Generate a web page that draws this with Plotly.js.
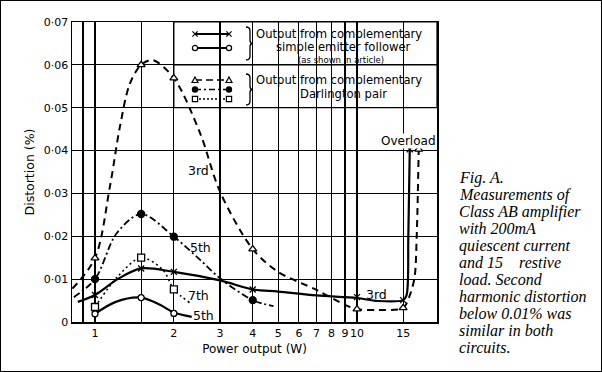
<!DOCTYPE html>
<html><head><meta charset="utf-8">
<script src="https://cdn.plot.ly/plotly-3.0.1.min.js"></script>
<style>
html,body{margin:0;padding:0;background:#fff;}
#frame{position:absolute;left:0;top:0;width:600px;height:370px;border:1px solid #000;background:#fff;}
#chart{width:600px;height:370px;}
</style></head><body>
<div id="frame"><div id="chart"></div></div>
<script>
// ---------- data ----------
const xTickVals = [0.9, 1, 1.5, 2, 3, 4, 5, 6, 7, 8, 9, 10, 15];
const xTickText = ['', '1', '', '2', '3', '4', '5', '6', '7', '8', '9', '10', '15'];
const yTickVals = [0, 0.01, 0.02, 0.03, 0.04, 0.05, 0.06, 0.07];
const yTickText = ['0', '0·01', '0·02', '0·03', '0·04', '0·05', '0·06', '0·07'];

// Simple emitter follower, 3rd harmonic (x markers, solid)
const ef3PointsX = [1, 1.5, 2, 4, 10, 15, 15.9];
const ef3PointsY = [0.0063, 0.0125, 0.0117, 0.0076, 0.0058, 0.0051, 0.0403];
const ef3CurveX = [0.86, 1, 1.22, 1.5, 2, 3, 4, 5, 7, 10, 12, 15, 15.45, 15.7, 15.9];
const ef3CurveY = [0.0047, 0.0063, 0.0100, 0.0125, 0.0117, 0.0097, 0.0076, 0.0071, 0.0062, 0.0056, 0.0049, 0.0051, 0.0062, 0.0200, 0.0403];

// Simple emitter follower, 5th harmonic (open circles, solid)
const ef5PointsX = [1, 1.5, 2];
const ef5PointsY = [0.0019, 0.0057, 0.0020];
const ef5CurveX = [1, 1.2, 1.5, 1.77, 2, 2.34];
const ef5CurveY = [0.0019, 0.0047, 0.0057, 0.0040, 0.0022, 0.0012];

// Darlington pair, 3rd harmonic (open triangles, dashed)
const dp3PointsX = [1, 1.5, 2, 4, 10, 15, 17.2];
const dp3PointsY = [0.0149, 0.0600, 0.0569, 0.0170, 0.0030, 0.0033, 0.0403];
const dp3CurveX = [0.82, 1, 1.14, 1.245, 1.36, 1.5, 1.66, 2, 2.52, 3, 4, 5, 7, 9, 10, 12, 15, 16, 16.6, 16.9, 17.2];
const dp3CurveY = [0.0078, 0.0149, 0.0316, 0.0456, 0.0557, 0.0600, 0.0611, 0.0569, 0.0440, 0.0304, 0.0170, 0.0117, 0.0075, 0.0040, 0.0030, 0.0028, 0.0033, 0.0067, 0.0106, 0.0200, 0.0403];

// Darlington pair, 5th harmonic (filled circles, dash-dot)
const dp5PointsX = [1, 1.5, 2, 4];
const dp5PointsY = [0.0100, 0.0252, 0.0199, 0.0051];
const dp5CurveX = [0.83, 1, 1.21, 1.5, 2, 2.52, 3, 4, 4.8];
const dp5CurveY = [0.0058, 0.0100, 0.0207, 0.0252, 0.0199, 0.0145, 0.0102, 0.0051, 0.0037];

// Darlington pair, 7th harmonic (open squares, dotted)
const dp7PointsX = [1, 1.5, 2];
const dp7PointsY = [0.0035, 0.0150, 0.0076];
const dp7CurveX = [1, 1.22, 1.5, 1.82, 2, 2.3];
const dp7CurveY = [0.0035, 0.0106, 0.0150, 0.0121, 0.0076, 0.0045];

const captionLines = ['Fig. A.', 'Measurements of', 'Class AB amplifier', 'with 200mA',
  'quiescent current', 'and 15\u00a0\u00a0\u00a0\u00a0restive', 'load. Second',
  'harmonic distortion', 'below 0.01% was', 'similar in both', 'circuits.'];

// ---------- geometry helpers (page pixels -> paper) ----------
const PL = 72, PR = 437, PT = 22, PB = 322;
const XR0 = (72 - 95) / 262, XR1 = (437 - 95) / 262;
const px = p => (p - PL) / (PR - PL);
const py = p => (PB - p) / (PB - PT);
const dx = v => (Math.log10(v) - XR0) / (XR1 - XR0);
const dy = v => v / 0.07;
const SANS = 'DejaVu Sans';

function curve(x, y, dash, w, name) {
  return {x: x, y: y, type: 'scatter', mode: 'lines', name: name, hoverinfo: 'skip',
    line: {color: '#000', width: w, dash: dash, shape: 'spline', smoothing: 0.9}};
}
function pts(x, y, sym, fill, size, name) {
  return {x: x, y: y, type: 'scatter', mode: 'markers', name: name,
    marker: {symbol: sym, size: size, color: fill, line: {color: '#000', width: 1.3}}};
}

const traces = [
  curve(ef3CurveX, ef3CurveY, 'solid', 2.2, 'EF 3rd'),
  curve(ef5CurveX, ef5CurveY, 'solid', 2.2, 'EF 5th'),
  curve(dp3CurveX, dp3CurveY, '7px,5px', 2, 'Darlington 3rd'),
  curve(dp5CurveX, dp5CurveY, '7px,3px,2px,3px', 1.8, 'Darlington 5th'),
  curve(dp7CurveX, dp7CurveY, '2px,3px', 1.6, 'Darlington 7th'),
  pts(ef3PointsX, ef3PointsY, 'x-thin-open', '#000', 6, 'EF 3rd'),
  pts(ef5PointsX, ef5PointsY, 'circle', '#fff', 6, 'EF 5th'),
  pts(dp3PointsX, dp3PointsY, 'triangle-up', '#fff', 7, 'Darlington 3rd'),
  pts(dp5PointsX, dp5PointsY, 'circle', '#000', 7, 'Darlington 5th'),
  pts(dp7PointsX, dp7PointsY, 'square', '#fff', 7, 'Darlington 7th')
];

// ---------- legend box & drawing ----------
const shapes = [];
shapes.push({type: 'rect', xref: 'paper', yref: 'paper', layer: 'between',
  x0: dx(2), x1: 1, y0: dy(0.05), y1: 1, fillcolor: '#fff', line: {color: '#000', width: 1.2}});
shapes.push({type: 'line', xref: 'paper', yref: 'paper', layer: 'between',
  x0: dx(2), x1: 1, y0: dy(0.06), y1: dy(0.06), line: {color: '#000', width: 1.2}});

const legendRows = [
  {y: 34, dash: 'solid', m: 'x'},
  {y: 48, dash: 'solid', m: 'o'},
  {y: 80, dash: '7px,4px', m: 't'},
  {y: 89.5, dash: '6px,3px,2px,3px', m: 'd'},
  {y: 99, dash: '2px,2px', m: 's'}
];
const LX0 = 195, LX1 = 229;
function P(x, y) { return px(x) + ',' + py(y); }
legendRows.forEach(r => {
  shapes.push({type: 'line', xref: 'paper', yref: 'paper', x0: px(LX0), x1: px(LX1), y0: py(r.y), y1: py(r.y),
    line: {color: '#000', width: r.dash === 'solid' ? 2 : 1.6, dash: r.dash}});
  [LX0, LX1].forEach(cx => {
    const s = 2.6;
    if (r.m === 'x') {
      shapes.push({type: 'path', xref: 'paper', yref: 'paper',
        path: 'M' + P(cx - s, r.y - s) + 'L' + P(cx + s, r.y + s) + 'M' + P(cx - s, r.y + s) + 'L' + P(cx + s, r.y - s),
        line: {color: '#000', width: 1.2}});
    } else if (r.m === 'o' || r.m === 'd') {
      shapes.push({type: 'circle', xref: 'paper', yref: 'paper', x0: px(cx - s), x1: px(cx + s), y0: py(r.y + s), y1: py(r.y - s),
        fillcolor: r.m === 'd' ? '#000' : '#fff', line: {color: '#000', width: 1.2}});
    } else if (r.m === 't') {
      shapes.push({type: 'path', xref: 'paper', yref: 'paper',
        path: 'M' + P(cx - 3, r.y + 2.5) + 'L' + P(cx + 3, r.y + 2.5) + 'L' + P(cx, r.y - 3) + 'Z',
        fillcolor: '#fff', line: {color: '#000', width: 1.2}});
    } else {
      shapes.push({type: 'rect', xref: 'paper', yref: 'paper', x0: px(cx - s), x1: px(cx + s), y0: py(r.y + s), y1: py(r.y - s),
        fillcolor: '#fff', line: {color: '#000', width: 1.2}});
    }
  });
});
function brace(y0, y1) {
  const m = (y0 + y1) / 2;
  return {type: 'path', xref: 'paper', yref: 'paper', line: {color: '#000', width: 1.3},
    path: 'M' + P(246, y0) + 'Q' + P(250, y0) + ' ' + P(250, y0 + 4) + 'L' + P(250, m - 3) +
      'Q' + P(250, m) + ' ' + P(253, m) + 'Q' + P(250, m) + ' ' + P(250, m + 3) +
      'L' + P(250, y1 - 4) + 'Q' + P(250, y1) + ' ' + P(246, y1)};
}
shapes.push(brace(27, 60));
shapes.push(brace(74, 105));

const annotations = [];
function txt(t, x, y, size, anchor, extra) {
  const a = Object.assign({text: t, xref: 'paper', yref: 'paper', x: px(x), y: py(y), showarrow: false,
    xanchor: anchor || 'center', yanchor: 'middle', font: {family: SANS, size: size, color: '#000'}}, extra || {});
  annotations.push(a);
}
txt('Output from complementary', 254, 34, 11.6, 'left');
txt('simple emitter follower', 343, 47, 11.6);
txt('(as shown in article)', 341, 60, 8.5);
txt('Output from complementary', 254, 80, 11.6, 'left');
txt('Darlington pair', 343, 94, 11.6);
// curve labels
txt('3rd', 198, 170, 12.5);
txt('5th', 200, 247, 12.5);
txt('7th', 198, 295, 12.5);
txt('5th', 203, 315, 12.5);
txt('3rd', 376, 294, 12.5);
txt('Overload', 408, 141, 12, 'center', {bgcolor: '#fff', borderpad: 0});
// caption
captionLines.forEach((l, i) => {
  annotations.push({text: l, xref: 'paper', yref: 'paper', x: px(457), y: py(178 + i * 16.9),
    xanchor: 'left', yanchor: 'middle', showarrow: false,
    font: {family: 'Liberation Serif', size: 16, style: 'italic', color: '#000'}});
});

const tickFont = {family: SANS, size: 11, style: 'normal', weight: 'normal', color: '#000'};
const layout = {
  width: 600, height: 370,
  margin: {l: 71, r: 164, t: 21, b: 49},
  paper_bgcolor: '#fff', plot_bgcolor: '#fff',
  font: {family: SANS, color: '#000', size: 11},
  showlegend: false,
  xaxis: {type: 'log', range: [XR0, XR1], tickmode: 'array', tickvals: xTickVals, ticktext: xTickText,
    showgrid: true, gridcolor: '#000', gridwidth: 1.2, showline: true, linecolor: '#000', linewidth: 1.5,
    mirror: true, zeroline: false, ticks: '', tickfont: tickFont, tickangle: 0,
    title: {text: 'Power output (W)', font: {family: SANS, size: 12}, standoff: 6}},
  yaxis: {range: [0, 0.07], tickmode: 'array', tickvals: yTickVals, ticktext: yTickText,
    showgrid: true, gridcolor: '#000', gridwidth: 1.2, showline: true, linecolor: '#000', linewidth: 1.5,
    mirror: true, zeroline: false, ticks: '', tickfont: tickFont, tickangle: 0,
    title: {text: 'Distortion (%)', font: {family: SANS, size: 12.5}, standoff: 6}},
  shapes: shapes,
  annotations: annotations
};

Plotly.newPlot('chart', traces, layout, {staticPlot: true, displayModeBar: false});
</script>
</body></html>
